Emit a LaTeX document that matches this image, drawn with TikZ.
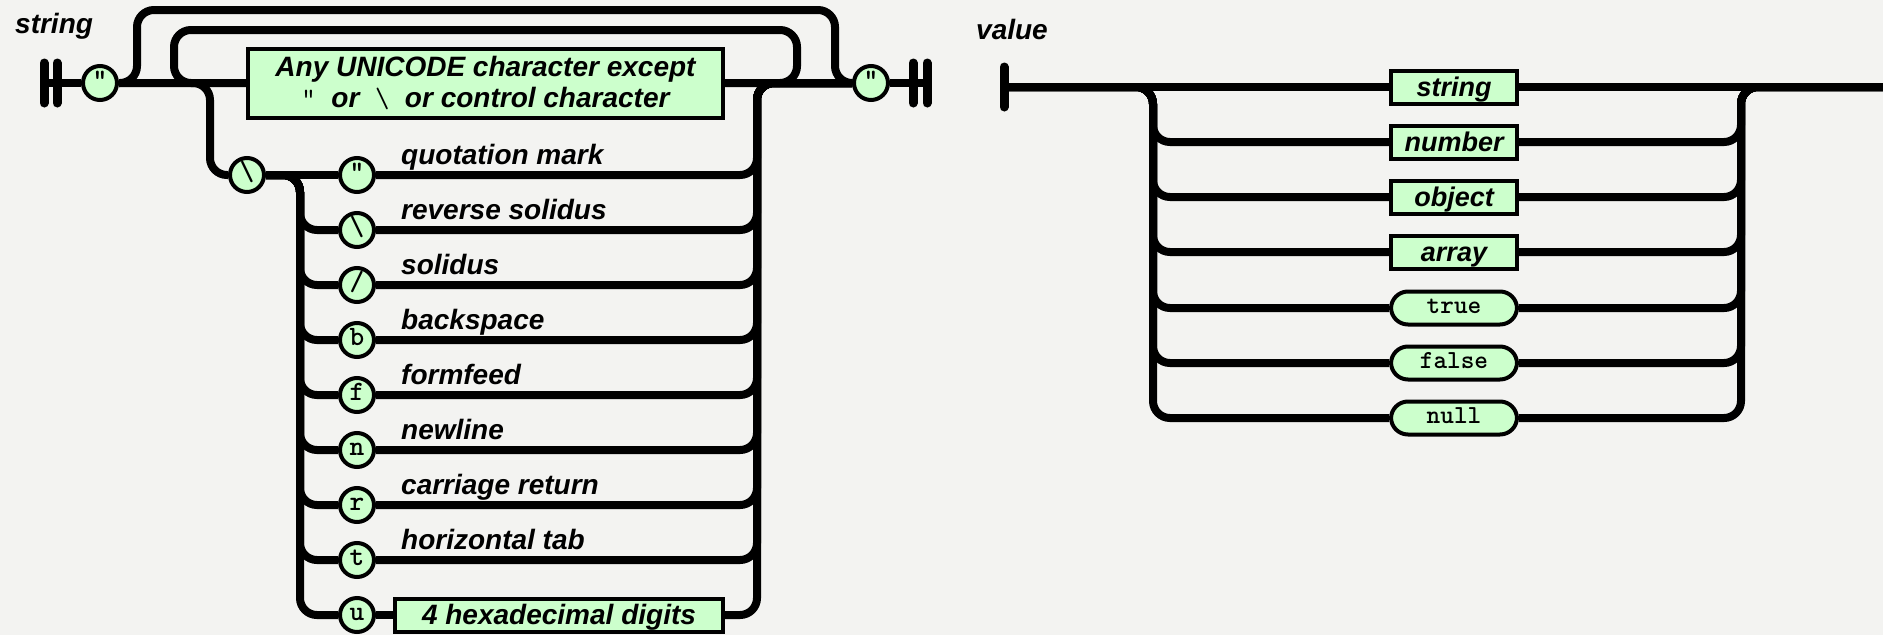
\documentclass[tikz,border=0pt]{standalone}
\usepackage{fontspec}
\setmainfont{Liberation Sans}
\definecolor{bgcol}{RGB}{243,243,241}
\definecolor{boxgreen}{RGB}{204,255,204}
\tikzset{
    rail/.style={line width=8pt, rounded corners=17pt},
    endbar/.style={line width=9pt, line cap=round},
    term/.style={circle, draw, line width=4pt, fill=boxgreen, minimum size=34pt, inner sep=0pt,
        text height=10pt, text depth=0pt, font=\ttfamily\bfseries\fontsize{28}{28}\selectfont},
    nterm/.style={rectangle, draw, line width=4pt, fill=boxgreen, inner sep=0pt,
        font=\bfseries\itshape\fontsize{28}{31}\selectfont},
    valbox/.style={nterm, minimum width=126pt, minimum height=33pt, text height=18pt, text depth=0pt,
        font=\bfseries\itshape\fontsize{27}{27}\selectfont},
    word/.style={rectangle, rounded corners=17pt, draw, line width=4pt, fill=boxgreen, inner sep=0pt,
        minimum width=126pt, minimum height=33pt, text height=10pt, text depth=0pt,
        font=\ttfamily\bfseries\fontsize{26}{26}\selectfont},
    lbl/.style={inner sep=0pt, font=\bfseries\itshape\fontsize{28}{28}\selectfont}
}

\begin{document}
\begin{tikzpicture}[x=1pt, y=-1pt]
                \fill[bgcol] (0,0) rectangle (1883,635);
                \useasboundingbox (0,0) rectangle (1883,635);
                % string
                \node[lbl, anchor=base west] (tstring) at (15,33) {string};
                \coordinate (sb) at (44,83);
                \coordinate (eb) at (927,83);
                \coordinate (oL) at (137,10);
                \coordinate (oR) at (835,10);
                \coordinate (iL) at (174,30);
                \coordinate (iR) at (797,30);
                \coordinate (eL) at (210,175);
                \coordinate (aL) at (300,615);
                \coordinate (aR) at (757,83);
                \node[term] (q1) at (100,83) {"};
                \node[term] (q2) at (871,83) {"};
                \node[nterm, minimum width=475pt, minimum height=69pt, align=center] (any) at (485.5,83)
                    {Any UNICODE character except\\{\mdseries\upshape\ttfamily "}\ \ or\ \ {\mdseries\upshape\ttfamily\textbackslash}\ \ or control character};
                \node[term] (bs) at (247,175) {\textbackslash};
                \node[term] (cq) at (357,175) {"};
                \node[term] (crs) at (357,230) {\textbackslash};
                \node[term] (cs) at (357,285) {/};
                \node[term] (cb) at (357,340) {b};
                \node[term] (cf) at (357,395) {f};
                \node[term] (cn) at (357,450) {n};
                \node[term] (cr) at (357,505) {r};
                \node[term] (ct) at (357,560) {t};
                \node[term] (cu) at (357,615) {u};
                \node[valbox, minimum width=328pt, font=\bfseries\itshape\fontsize{28}{28}\selectfont] (hex) at (559,615) {4 hexadecimal digits};
                \node[lbl, anchor=base west] (lq) at (401,164) {quotation mark};
                \node[lbl, anchor=base west] (lrs) at (401,219) {reverse solidus};
                \node[lbl, anchor=base west] (ls) at (401,274) {solidus};
                \node[lbl, anchor=base west] (lb) at (401,329) {backspace};
                \node[lbl, anchor=base west] (lf) at (401,384) {formfeed};
                \node[lbl, anchor=base west] (ln) at (401,439) {newline};
                \node[lbl, anchor=base west] (lr) at (401,494) {carriage return};
                \node[lbl, anchor=base west] (lt) at (401,549) {horizontal tab};
                \draw[endbar] (44,63) -- (44,103);
                \draw[endbar] (57,63) -- (57,103);
                \draw[endbar] (913,63) -- (913,103);
                \draw[endbar] (927,63) -- (927,103);
                \draw[rail] (sb) -- (q1);
                \draw[rail] (q1) -- (any);
                \draw[rail] (any) -- (q2);
                \draw[rail] (q2) -- (eb);
                \draw[rail] (q1.east) -| (oL) -| (oR |- q2) -- (q2.west);
                \draw[rail] (any.east) -| (iR) -| (iL |- any) -- (any.west);
                \draw[rail] (q1.east) -| (eL) -- (bs.west);
                \draw[rail] (bs) -- (cq);
                \draw[rail] (bs.east) -| (aL |- crs) -- (crs.west);
                \draw[rail] (bs.east) -| (aL |- cs) -- (cs.west);
                \draw[rail] (bs.east) -| (aL |- cb) -- (cb.west);
                \draw[rail] (bs.east) -| (aL |- cf) -- (cf.west);
                \draw[rail] (bs.east) -| (aL |- cn) -- (cn.west);
                \draw[rail] (bs.east) -| (aL |- cr) -- (cr.west);
                \draw[rail] (bs.east) -| (aL |- ct) -- (ct.west);
                \draw[rail] (bs.east) -| (aL) -- (cu.west);
                \draw[rail] (cu) -- (hex);
                \draw[rail] (cq.east) -| (aR) -- (q2.west);
                \draw[rail] (crs.east) -| (aR) -- (q2.west);
                \draw[rail] (cs.east) -| (aR) -- (q2.west);
                \draw[rail] (cb.east) -| (aR) -- (q2.west);
                \draw[rail] (cf.east) -| (aR) -- (q2.west);
                \draw[rail] (cn.east) -| (aR) -- (q2.west);
                \draw[rail] (cr.east) -| (aR) -- (q2.west);
                \draw[rail] (ct.east) -| (aR) -- (q2.west);
                \draw[rail] (hex.east) -| (aR) -- (q2.west);
                % value
                \node[lbl, anchor=base west] (tvalue) at (976,39) {value};
                \coordinate (vs) at (1004,87);
                \coordinate (ve) at (1883,87);
                \coordinate (vL) at (1153,418);
                \coordinate (vR) at (1741,87);
                \node[valbox] (vstring) at (1454,87) {string};
                \node[valbox] (vnumber) at (1454,142) {number};
                \node[valbox] (vobject) at (1454,197) {object};
                \node[valbox] (varray) at (1454,252) {array};
                \node[word] (vtrue) at (1454,308) {true};
                \node[word] (vfalse) at (1454,363) {false};
                \node[word] (vnull) at (1454,418) {null};
                \draw[endbar] (1004,67) -- (1004,107);
                \draw[rail] (vs) -- (vstring);
                \draw[rail] (vstring) -- (ve);
                \draw[rail] (vs) -| (vL |- vnumber) -- (vnumber.west);
                \draw[rail] (vs) -| (vL |- vobject) -- (vobject.west);
                \draw[rail] (vs) -| (vL |- varray) -- (varray.west);
                \draw[rail] (vs) -| (vL |- vtrue) -- (vtrue.west);
                \draw[rail] (vs) -| (vL |- vfalse) -- (vfalse.west);
                \draw[rail] (vs) -| (vL) -- (vnull.west);
                \draw[rail] (vnumber.east) -| (vR) -- (ve);
                \draw[rail] (vobject.east) -| (vR) -- (ve);
                \draw[rail] (varray.east) -| (vR) -- (ve);
                \draw[rail] (vtrue.east) -| (vR) -- (ve);
                \draw[rail] (vfalse.east) -| (vR) -- (ve);
                \draw[rail] (vnull.east) -| (vR) -- (ve);
            \end{tikzpicture}
\end{document}
